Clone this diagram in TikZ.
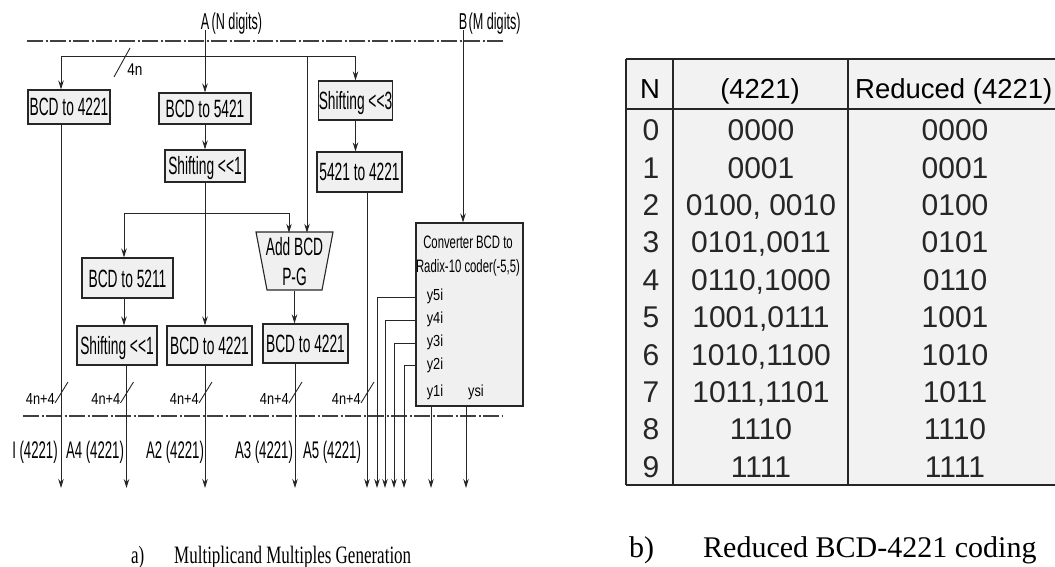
\documentclass[tikz,border=0pt]{standalone}
\usepackage{fontspec}
\setmainfont{Liberation Sans}
\newfontfamily\nf[FakeStretch=0.55]{Liberation Sans}
\newfontfamily\mf[FakeStretch=0.63]{Liberation Sans}
\newfontfamily\yf[FakeStretch=0.8]{Liberation Sans}
\newfontfamily\tf{Liberation Sans}
\newfontfamily\capaf[FakeStretch=0.68]{Liberation Serif}
\newfontfamily\capbf{Liberation Serif}
\usetikzlibrary{arrows.meta}
\tikzset{
  ln/.style={draw=black!85, line width=0.9pt},
  arr/.style={ln, -{Stealth[length=9pt,width=5.5pt]}},
  box/.style={draw=black!85, line width=1.1pt, fill=black!6, inner sep=0pt,
    font=\nf\fontsize{25}{27}\selectfont, text height=18pt, text depth=0pt},
  lbl/.style={inner sep=0pt, font=\nf\fontsize{24}{26}\selectfont},
  toplbl/.style={inner sep=0pt, font=\nf\fontsize{23}{25}\selectfont},
  wlbl/.style={inner sep=0pt, font=\yf\fontsize{16}{18}\selectfont},
  clbl/.style={inner sep=0pt, font=\mf\fontsize{18}{20}\selectfont},
  ylbl/.style={inner sep=0pt, font=\yf\fontsize{16}{18}\selectfont},
  bus/.style={draw=black!75, line width=1.6pt, dash pattern=on 16pt off 2.5pt on 2pt off 2.5pt},
  tline/.style={draw=black!85, line width=1.4pt},
  thead/.style={inner sep=0pt, font=\tf\fontsize{27.5}{30}\selectfont, text height=20pt, text depth=0pt},
  tcell/.style={inner sep=0pt, font=\tf\fontsize{30}{32}\selectfont, text height=21.5pt, text depth=0pt, text=black!85},
}
\begin{document}
\begin{tikzpicture}[x=1pt,y=-1pt]
\useasboundingbox (0,0) rectangle (1055,567);

% ---------------- left panel ----------------
\node[toplbl] (A) at (205,22) {A};
\node[toplbl, anchor=base west] (Ad) at ([xshift=2pt]A.base east) {(N digits)};
\node[toplbl] (B) at (463,22) {B};
\node[toplbl, anchor=base west] (Bd) at ([xshift=1pt]B.base east) {(M digits)};

\draw[bus] (27,41) -- (505,41);
\draw[bus] (23,416) -- (502,416);

% boxes
\node[box, minimum width=82, minimum height=34] (b4221L) at (69,107) {BCD to 4221};
\node[box, minimum width=92, minimum height=31] (b5421) at (205,108.5) {BCD to 5421};
\node[box, minimum width=80, minimum height=32] (sh1a) at (205,166) {Shifting <{}<1};
\node[box, minimum width=71, minimum height=39] (sh3) at (355.5,100.5) {Shifting <{}<3};
\node[box, minimum width=85, minimum height=40] (c5421) at (359.5,172) {5421 to 4221};
\node[box, minimum width=91, minimum height=40] (b5211) at (127.5,278) {BCD to 5211};
\node[box, minimum width=80, minimum height=39] (sh1b) at (117,345.5) {Shifting <{}<1};
\node[box, minimum width=85, minimum height=39] (b4221M) at (209.5,345.5) {BCD to 4221};
\node[box, minimum width=85, minimum height=39] (b4221R) at (305.5,343.5) {BCD to 4221};

% Add BCD trapezoid
\filldraw[draw=black!85, line width=1.1pt, fill=black!6] (256,232) -- (333,232) -- (322,290) -- (267,290) -- cycle;
\node[inner sep=0pt, minimum width=77, minimum height=58, align=center,
  font=\nf\fontsize{25}{30}\selectfont] (add) at (294.5,262) {Add BCD\\P-G};

% converter
\node[box, minimum width=107, minimum height=183] (conv) at (469.5,314.5) {};
\node[clbl] (ct1) at (468,242) {Converter BCD to};
\node[clbl] (ct2) at (468,268) {Radix-10 coder(-5,5)};
\node[ylbl] (y5) at (435,296) {y5i};
\node[ylbl] (y4) at (435,319) {y4i};
\node[ylbl] (y3) at (435,342) {y3i};
\node[ylbl] (y2) at (435,365) {y2i};
\node[ylbl] (y1) at (435,392) {y1i};
\node[ylbl] (ys) at (476,392) {ysi};

% input connectors
\draw[arr] (A.south) -- (A.south |- b5421.north);
\draw[arr] (B.south) -- (B.south |- conv.north);
\coordinate (busL) at (61,56);
\coordinate (busM) at (307,56);
\coordinate (busR) at (355.5,56);
\draw[ln] (busL) -- (busR);
\draw[arr] (busL) -- (busL |- b4221L.north);
\draw[arr] (busR) -- (sh3.north);
\draw[arr] (busM) -- (busM |- add.north);
\draw[ln] (114,77) -- (130,48);
\node[wlbl, font=\yf\fontsize{17}{19}\selectfont] (w4n) at (135,70) {4n};

\draw[arr] (b5421.south) -- (sh1a.north);
\draw[arr] (sh3.south) -- (sh3.south |- c5421.north);
\coordinate (spL) at (124,213);
\coordinate (spR) at (289,213);
\draw[ln] (spL) -- (spR);
\draw[arr] (spL) -- (spL |- b5211.north);
\draw[arr] (spR) -- (spR |- add.north);
\draw[arr] (sh1a.south) -- (sh1a.south |- b4221M.north);
\draw[arr] (spL |- b5211.south) -- (spL |- sh1b.north);
\draw[arr] (add.south) -- (add.south |- b4221R.north);

% outputs
\coordinate (o1) at (61,488);
\coordinate (o2) at (126.5,488);
\coordinate (o3) at (205,488);
\coordinate (o4) at (295,488);
\coordinate (o5) at (367,488);
\coordinate (e5) at (377,488);
\coordinate (e4) at (385,488);
\coordinate (e3) at (394,488);
\coordinate (e2) at (404,488);
\coordinate (e1) at (431,488);
\coordinate (es) at (466,488);
\draw[arr] (o1 |- b4221L.south) -- (o1);
\draw[arr] (o2 |- sh1b.south) -- (o2);
\draw[arr] (o3 |- b4221M.south) -- (o3);
\draw[arr] (o4 |- b4221R.south) -- (o4);
\draw[arr] (o5 |- c5421.south) -- (o5);
\draw[arr] ([yshift=-1pt]y5.west -| conv.west) -| (e5);
\draw[arr] ([yshift=-1pt]y4.west -| conv.west) -| (e4);
\draw[arr] ([yshift=-1pt]y3.west -| conv.west) -| (e3);
\draw[arr] (y2.west -| conv.west) -| (e2);
\draw[arr] (e1 |- conv.south) -- (e1);
\draw[arr] (es |- conv.south) -- (es);

% width slashes and labels
\foreach \x/\n in {61/1,126.5/2,205/3,295/4,367/5}{
  \draw[ln] (\x-6,403) -- (\x+7,382);
  \node[wlbl, anchor=east] (w\n) at (\x-6,399) {4n+4};
}

% output labels
\node[lbl] (q1) at (35,452) {I (4221)};
\node[lbl] (q2) at (95,452) {A4 (4221)};
\node[lbl] (q3) at (175,452) {A2 (4221)};
\node[lbl] (q4) at (264,452) {A3 (4221)};
\node[lbl] (q5) at (332,452) {A5 (4221)};

% caption a
\node[inner sep=0pt, anchor=base west, font=\capaf\fontsize{25}{27}\selectfont] (capa1) at (131,563) {a)};
\node[inner sep=0pt, anchor=base west, font=\capaf\fontsize{25}{27}\selectfont] (capa2) at (174,563) {Multiplicand Multiples Generation};

% ---------------- right panel: table ----------------
\fill[black!5] (626,59) rectangle (1060,485);
\draw[tline] (626,59) -- (1060,59);
\draw[tline] (626,109) -- (1060,109);
\draw[tline] (626,485) -- (1060,485);
\draw[tline] (626,59) -- (626,485);
\draw[tline] (673,59) -- (673,485);
\draw[tline] (848,59) -- (848,485);

\node[thead] (hN) at (650,89) {N};
\node[thead] (hA) at (760,89) {(4221)};
\node[thead, anchor=west] (hB) at (855,89) {Reduced (4221)};

\foreach \n/\a/\b [count=\i from 0] in {0/0000/0000, 1/0001/0001, 2/{0100, 0010}/0100, 3/{0101,0011}/0101, 4/{0110,1000}/0110, 5/{1001,0111}/1001, 6/{1010,1100}/1010, 7/{1011,1101}/1011, 8/1110/1110, 9/1111/1111}{
  \node[tcell] (n\i) at (651,130+37.4*\i) {\n};
  \node[tcell] (a\i) at (761,130+37.4*\i) {\a};
  \node[tcell] (r\i) at (955,130+37.4*\i) {\b};
}

% caption b
\node[inner sep=0pt, anchor=base west, font=\capbf\fontsize{30}{32}\selectfont] (capb1) at (629,557) {b)};
\node[inner sep=0pt, anchor=base west, font=\capbf\fontsize{30}{32}\selectfont] (capb2) at (703,557) {Reduced BCD-4221 coding};
\end{tikzpicture}
\end{document}
